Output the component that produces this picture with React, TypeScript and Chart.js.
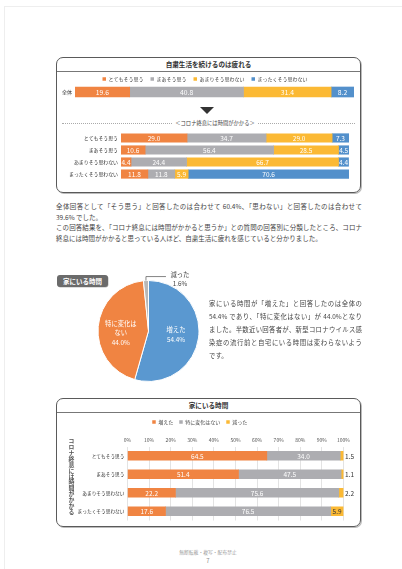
import React, { useEffect, useRef } from "react";
import { Chart, registerables } from "chart.js";
Chart.register(...registerables);

const FONT = '"Noto Sans CJK JP", "Noto Sans", sans-serif';
Chart.defaults.font.family = FONT;

// ---------- data ----------
const opinionSeries = ["とてもそう思う", "まあそう思う", "あまりそう思わない", "まったくそう思わない"];
const overallCategory = ["全体"];
const overallValues = [19.6, 40.8, 31.4, 8.2];

const rowCategories = ["とてもそう思う", "まあそう思う", "あまりそう思わない", "まったくそう思わない"];
const rowVeryMuch = [29.0, 10.6, 4.4, 11.8];
const rowSomewhat = [34.7, 56.4, 24.4, 11.8];
const rowNotMuch = [29.0, 28.5, 66.7, 5.9];
const rowNotAtAll = [7.3, 4.5, 4.4, 70.6];

const pieLabels = ["増えた", "特に変化はない", "減った"];
const pieValues = [54.4, 44.0, 1.6];
const pieLabelLines = [["増えた"], ["特に変化は", "ない"], ["減った"]];

const homeSeries = ["増えた", "特に変化はない", "減った"];
const homeIncreased = [64.5, 51.4, 22.2, 17.6];
const homeNoChange = [34.0, 47.5, 75.6, 76.5];
const homeDecreased = [1.5, 1.1, 2.2, 5.9];

// ---------- styles ----------
const ORANGE = "#F08442";
const GRAY = "#ADADB1";
const YELLOW = "#FBB934";
const BLUE = "#5390CB";
const PIE_BLUE = "#5A98D0";
const PIE_GRAY = "#B8B8B8";

function barValueLabels(fontSize: number, style: (di: number, v: number) => { color: string; outside: boolean }) {
  return {
    id: "barValueLabels",
    afterDatasetsDraw(chart: any) {
      const ctx = chart.ctx;
      ctx.save();
      ctx.font = `${fontSize}px ${FONT}`;
      ctx.textBaseline = "middle";
      chart.data.datasets.forEach((ds: any, di: number) => {
        const meta = chart.getDatasetMeta(di);
        meta.data.forEach((el: any, i: number) => {
          const v = ds.data[i] as number;
          const p = el.getProps(["x", "y", "base"], true);
          const s = style(di, v);
          ctx.fillStyle = s.color;
          if (s.outside) {
            ctx.textAlign = "left";
            ctx.fillText(v.toFixed(1), p.x + 1.5, p.y + 0.5);
          } else {
            ctx.textAlign = "center";
            ctx.fillText(v.toFixed(1), (p.x + p.base) / 2, p.y + 0.5);
          }
        });
      });
      ctx.restore();
    },
  };
}

const pieLabelPlugin = {
  id: "pieLabels",
  afterDatasetsDraw(chart: any) {
    const ctx = chart.ctx;
    const meta = chart.getDatasetMeta(0);
    const values = chart.data.datasets[0].data as number[];
    ctx.save();
    ctx.font = `6.3px ${FONT}`;
    ctx.textAlign = "center";
    ctx.textBaseline = "middle";
    meta.data.forEach((arc: any, i: number) => {
      const { x, y, startAngle, endAngle, outerRadius } = arc.getProps(
        ["x", "y", "startAngle", "endAngle", "outerRadius"],
        true
      );
      const mid = (startAngle + endAngle) / 2;
      const lines = [...pieLabelLines[i], values[i].toFixed(1) + "%"];
      if (values[i] >= 5) {
        const r = outerRadius * 0.55;
        const cx = x + Math.cos(mid) * r;
        const cy = y + Math.sin(mid) * r - 5;
        ctx.fillStyle = "#ffffff";
        lines.forEach((t, k) => ctx.fillText(t, cx, cy + k * 9.5));
      } else {
        const px = x + Math.cos(mid) * outerRadius;
        const py = y + Math.sin(mid) * outerRadius;
        const ly = py - 4;
        ctx.strokeStyle = "#666";
        ctx.lineWidth = 0.8;
        ctx.beginPath();
        ctx.moveTo(px, py);
        ctx.lineTo(px, ly);
        ctx.lineTo(px + 20, ly);
        ctx.stroke();
        ctx.fillStyle = "#444";
        lines.forEach((t, k) => ctx.fillText(t, px + 34, ly - 2 + k * 9.5));
      }
    });
    ctx.restore();
  },
};

function fixedWidth(w: number) {
  return (axis: any) => {
    axis.width = w;
  };
}

function overallConfig(): any {
  return {
    type: "bar",
    data: {
      labels: overallCategory,
      datasets: opinionSeries.map((name, k) => ({
        label: name,
        data: [overallValues[k]],
        backgroundColor: [ORANGE, GRAY, YELLOW, BLUE][k],
        borderWidth: 0,
        barThickness: 10,
      })),
    },
    options: {
      indexAxis: "y",
      responsive: false,
      animation: false,
      layout: { padding: { left: 0, right: 8, top: 3.5, bottom: 1.5 } },
      scales: {
        x: { stacked: true, min: 0, max: 100, display: false },
        y: {
          stacked: true,
          grid: { display: false, drawTicks: false },
          border: { display: false },
          ticks: { font: { size: 5 }, color: "#333", padding: 3 },
          afterFit: fixedWidth(19),
        },
      },
      plugins: {
        legend: {
          display: true,
          position: "top",
          labels: { boxWidth: 3.5, boxHeight: 3.5, font: { size: 5 }, color: "#444", padding: 7 },
        },
        tooltip: { enabled: false },
      },
    },
    plugins: [barValueLabels(6.8, () => ({ color: "#ffffff", outside: false }))],
  };
}

function rowsConfig(): any {
  const series = [rowVeryMuch, rowSomewhat, rowNotMuch, rowNotAtAll];
  return {
    type: "bar",
    data: {
      labels: rowCategories,
      datasets: opinionSeries.map((name, k) => ({
        label: name,
        data: series[k],
        backgroundColor: [ORANGE, GRAY, YELLOW, BLUE][k],
        borderWidth: 0,
        barThickness: 8.5,
      })),
    },
    options: {
      indexAxis: "y",
      responsive: false,
      animation: false,
      layout: { padding: { left: 0, right: 13, top: 0, bottom: 0 } },
      scales: {
        x: { stacked: true, min: 0, max: 100.1, display: false },
        y: {
          stacked: true,
          grid: { display: false, drawTicks: false },
          border: { display: false },
          ticks: { font: { size: 4.9 }, color: "#333", padding: 3 },
          afterFit: fixedWidth(65),
        },
      },
      plugins: { legend: { display: false }, tooltip: { enabled: false } },
    },
    plugins: [barValueLabels(6.5, () => ({ color: "#ffffff", outside: false }))],
  };
}

function pieConfig(): any {
  return {
    type: "pie",
    data: {
      labels: pieLabels,
      datasets: [
        {
          data: pieValues,
          backgroundColor: [PIE_BLUE, ORANGE, PIE_GRAY],
          borderColor: "#ffffff",
          borderWidth: 1,
        },
      ],
    },
    options: {
      responsive: false,
      animation: false,
      layout: { padding: { left: 7.5, right: 20.5, top: 12, bottom: 12 } },
      plugins: { legend: { display: false }, tooltip: { enabled: false } },
    },
    plugins: [pieLabelPlugin],
  };
}

function homeConfig(): any {
  const series = [homeIncreased, homeNoChange, homeDecreased];
  return {
    type: "bar",
    data: {
      labels: rowCategories,
      datasets: homeSeries.map((name, k) => ({
        label: name,
        data: series[k],
        backgroundColor: [ORANGE, GRAY, YELLOW][k],
        borderWidth: 0,
        barThickness: 9,
      })),
    },
    options: {
      indexAxis: "y",
      responsive: false,
      animation: false,
      layout: { padding: { left: 0, right: 18.5, top: 1.5, bottom: 6.5 } },
      scales: {
        x: {
          stacked: true,
          position: "top",
          min: 0,
          max: 100,
          grid: { color: "#dcdcdc", drawTicks: false, lineWidth: 0.8 },
          border: { display: false },
          ticks: {
            stepSize: 10,
            font: { size: 5 },
            color: "#555",
            padding: 3,
            callback: (v: any) => v + "%",
          },
        },
        y: {
          stacked: true,
          grid: { display: false, drawTicks: false },
          border: { display: false },
          ticks: { font: { size: 4.7 }, color: "#333", padding: 3 },
          afterFit: fixedWidth(71.5),
        },
      },
      plugins: {
        legend: {
          display: true,
          position: "top",
          labels: { boxWidth: 3.5, boxHeight: 3.5, font: { size: 5 }, color: "#444", padding: 6 },
        },
        tooltip: { enabled: false },
      },
    },
    plugins: [
      barValueLabels(6.5, (di, v) =>
        di < 2 ? { color: "#ffffff", outside: false } : { color: "#333", outside: v < 5 }
      ),
    ],
  };
}

function ChartCanvas(props: { config: () => any; left: number; top: number; width: number; height: number }) {
  const ref = useRef<HTMLCanvasElement>(null);
  useEffect(() => {
    const chart = new Chart(ref.current as HTMLCanvasElement, props.config());
    return () => chart.destroy();
  }, []);
  return (
    <canvas
      ref={ref}
      width={props.width}
      height={props.height}
      style={{ position: "absolute", left: props.left, top: props.top, width: props.width, height: props.height }}
    />
  );
}

function Box(props: { left: number; top: number; width: number; height: number; title: string }) {
  return (
    <div
      style={{
        position: "absolute",
        left: props.left,
        top: props.top,
        width: props.width,
        height: props.height,
        border: "1.2px solid #5a5a5a",
        borderRadius: 7,
        boxShadow: "1px 1px 0 #bbb",
        boxSizing: "border-box",
      }}
    >
      <div
        style={{
          position: "absolute",
          left: 0,
          right: 0,
          top: 0,
          height: 12.5,
          borderBottom: "1px solid #777",
          textAlign: "center",
          fontSize: 6.6,
          lineHeight: "12.5px",
          fontWeight: 700,
          color: "#333",
        }}
      >
        {props.title}
      </div>
    </div>
  );
}

function TextLine(props: { left: number; top: number; width: number; text: string; justify?: boolean; size?: number }) {
  return (
    <div
      style={{
        position: "absolute",
        left: props.left,
        top: props.top,
        width: props.width,
        fontSize: props.size || 6.5,
        lineHeight: "9px",
        height: 9,
        whiteSpace: props.justify ? "normal" : "nowrap",
        textAlign: props.justify ? "justify" : "left",
        textAlignLast: props.justify ? "justify" : "left",
        color: "#444",
        overflow: "visible",
      } as any}
    >
      {props.text}
    </div>
  );
}

export default function App() {
  const para1 = [
    { t: "全体回答として「そう思う」と回答したのは合わせて 60.4%、「思わない」と回答したのは合わせて", j: true },
    { t: "39.6% でした。", j: false },
    { t: "この回答結果を、「コロナ終息には時間がかかると思うか」との質問の回答別に分類したところ、コロナ", j: true },
    { t: "終息には時間がかかると思っている人ほど、自粛生活に疲れを感じていると分かりました。", j: false },
  ];
  const para2 = [
    { t: "家にいる時間が「増えた」と回答したのは全体の", j: true },
    { t: "54.4% であり、「特に変化はない」が 44.0%となり", j: true },
    { t: "ました。半数近い回答者が、新型コロナウイルス感", j: true },
    { t: "染症の流行前と自宅にいる時間は変わらないよう", j: true },
    { t: "です。", j: false },
  ];
  return (
    <div
      style={{
        position: "absolute",
        left: 0,
        top: 0,
        width: 402,
        height: 569,
        background: "#fff",
        overflow: "hidden",
        fontFamily: FONT,
      }}
    >
      <div
        style={{
          position: "absolute",
          left: 4,
          top: 6,
          right: -2,
          bottom: -2,
          borderTop: "1px solid #eeeeee",
          borderLeft: "1px solid #eeeeee",
        }}
      />

      {/* Box 1 */}
      <Box left={56} top={57} width={305} height={136} title="自粛生活を続けるのは疲れる" />
      <ChartCanvas config={overallConfig} left={56} top={66} width={306} height={38} />
      <div
        style={{
          position: "absolute",
          left: 200,
          top: 107,
          width: 0,
          height: 0,
          borderLeft: "7.5px solid transparent",
          borderRight: "7.5px solid transparent",
          borderTop: "7px solid #333",
        }}
      />
      <div style={{ position: "absolute", left: 62, width: 110, top: 123, borderTop: "1px dotted #aaa" }} />
      <div style={{ position: "absolute", left: 258, width: 97, top: 123, borderTop: "1px dotted #aaa" }} />
      <div
        style={{
          position: "absolute",
          left: 172,
          width: 86,
          top: 119,
          textAlign: "center",
          fontSize: 5.3,
          lineHeight: "8px",
          color: "#444",
          whiteSpace: "nowrap",
        }}
      >
        ＜コロナ終息には時間がかかる＞
      </div>
      <ChartCanvas config={rowsConfig} left={56} top={126} width={306} height={60} />

      {/* paragraph 1 */}
      {para1.map((l, i) => (
        <TextLine key={i} left={56} top={202 + i * 10.5} width={306} text={l.t} justify={l.j} />
      ))}

      {/* pie section */}
      <div
        style={{
          position: "absolute",
          left: 57,
          top: 275,
          width: 51,
          height: 12,
          background: "#6b6b6b",
          borderRadius: 3,
          color: "#fff",
          fontWeight: 700,
          fontSize: 6.5,
          lineHeight: "12px",
          textAlign: "center",
          boxShadow: "0.5px 0.5px 0 #bbb",
        }}
      >
        家にいる時間
      </div>
      <ChartCanvas config={pieConfig} left={90} top={268} width={130} height={126} />
      {para2.map((l, i) => (
        <TextLine key={i} left={209} top={299 + i * 13.1} width={153} text={l.t} justify={l.j} size={6.4} />
      ))}

      {/* Box 2 */}
      <Box left={56} top={398} width={305} height={129} title="家にいる時間" />
      <ChartCanvas config={homeConfig} left={56} top={412} width={306} height={115} />
      <div
        style={{
          position: "absolute",
          left: 67,
          top: 438,
          width: 8,
          height: 80,
          writingMode: "vertical-rl",
          textOrientation: "upright",
          fontSize: 5.9,
          lineHeight: "8px",
          fontWeight: 700,
          color: "#555",
          letterSpacing: 0,
        } as any}
      >
        コロナ終息には時間がかかる
      </div>

      {/* footer */}
      <div
        style={{
          position: "absolute",
          left: 158,
          width: 100,
          top: 549,
          textAlign: "center",
          fontSize: 4.8,
          lineHeight: "6px",
          color: "#999",
          whiteSpace: "nowrap",
        }}
      >
        無断転載・複写・配布禁止
      </div>
      <div
        style={{
          position: "absolute",
          left: 158,
          width: 100,
          top: 557,
          textAlign: "center",
          fontSize: 6,
          lineHeight: "8px",
          color: "#888",
        }}
      >
        7
      </div>
    </div>
  );
}
